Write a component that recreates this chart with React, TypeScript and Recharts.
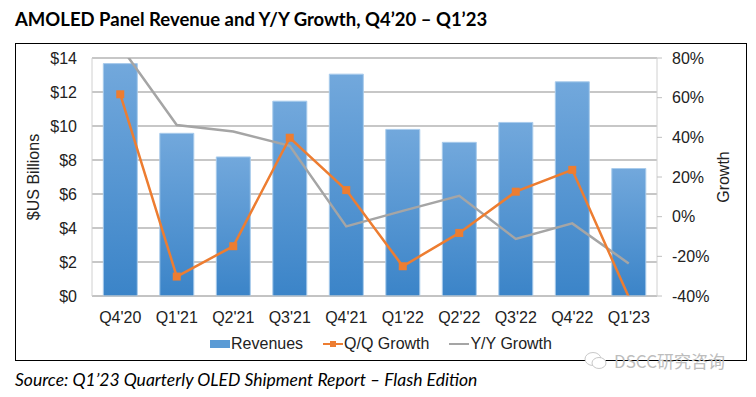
import React from "react"
import {
  ComposedChart,
  Bar,
  Line,
  XAxis,
  YAxis,
  CartesianGrid,
  Legend,
} from "recharts"

const quarters = ["Q4'20", "Q1'21", "Q2'21", "Q3'21", "Q4'21", "Q1'22", "Q2'22", "Q3'22", "Q4'22", "Q1'23"]
const revenues = [13.67, 9.57, 8.18, 11.46, 13.05, 9.8, 9.04, 10.21, 12.6, 7.5]
const qqGrowth = [61.7, -30.2, -14.9, 39.8, 13.4, -25.0, -8.2, 12.6, 23.6, -40.5]
const yyGrowth = [86, 46.2, 42.9, 35.7, -4.9, 2.9, 10.5, -11.2, -3.4, -23.6]
const revenueTicks = [0, 2, 4, 6, 8, 10, 12, 14]
const growthTicks = [-40, -20, 0, 20, 40, 60, 80]

const data = quarters.map((q, i) => ({
  quarter: q,
  revenue: revenues[i],
  qq: qqGrowth[i],
  yy: yyGrowth[i],
}))

const axisFont = "'Liberation Sans', Arial, sans-serif"
const ORANGE = "#ED7D31"
const GRAY = "#A5A5A5"
const BLUE = "#5B9BD5"

const SquareDot = (props: any) => {
  const { cx, cy, value } = props
  if (cx == null || cy == null || value < -40 || value > 80) return null
  return <rect x={cx - 4} y={cy - 4} width={8} height={8} fill={ORANGE} />
}

const LegendContent = () => (
  <div
    style={{
      display: "flex",
      justifyContent: "center",
      alignItems: "center",
      fontFamily: axisFont,
      fontSize: 16,
      color: "#222",
      gap: 20,
    }}
  >
    <span style={{ display: "flex", alignItems: "center" }}>
      <svg width={20} height={10} style={{ marginRight: 1 }}>
        <rect x={0} y={1} width={20} height={8} fill={BLUE} />
      </svg>
      Revenues
    </span>
    <span style={{ display: "flex", alignItems: "center" }}>
      <svg width={20} height={10} style={{ marginRight: 1 }}>
        <line x1={0} y1={5} x2={20} y2={5} stroke={ORANGE} strokeWidth={2} />
        <rect x={7} y={2} width={6} height={6} fill={ORANGE} />
      </svg>
      Q/Q Growth
    </span>
    <span style={{ display: "flex", alignItems: "center" }}>
      <svg width={20} height={10} style={{ marginRight: 1 }}>
        <line x1={0} y1={5} x2={20} y2={5} stroke={GRAY} strokeWidth={2} />
      </svg>
      Y/Y Growth
    </span>
  </div>
)

export default function App() {
  return (
    <div
      style={{
        position: "absolute",
        left: 0,
        top: 0,
        width: 756,
        height: 397,
        background: "#fff",
        overflow: "hidden",
      }}
    >
      <div
        style={{
          position: "absolute",
          left: 15,
          top: 8,
          fontFamily: "Lato, 'Open Sans', sans-serif",
          fontWeight: 700,
          fontSize: 18.5,
          color: "#000",
          whiteSpace: "nowrap",
        }}
      >
        AMOLED Panel Revenue and Y/Y Growth, Q4’20 – Q1’23
      </div>

      <div
        style={{
          position: "absolute",
          left: 15,
          top: 43,
          width: 730,
          height: 316,
          border: "1px solid #000",
        }}
      >
        <ComposedChart
          width={730}
          height={316}
          data={data}
          margin={{ top: 14, right: 0, bottom: 0, left: 0 }}
          barCategoryGap="20%"
        >
          <defs>
            <linearGradient id="barFill" x1="0" y1="0" x2="0" y2="1">
              <stop offset="0%" stopColor="#72A8DC" />
              <stop offset="100%" stopColor="#3B84C8" />
            </linearGradient>
          </defs>
          <CartesianGrid yAxisId="left" vertical={false} stroke="#8f8f8f" strokeWidth={1.2} />
          <XAxis
            dataKey="quarter"
            height={36}
            tickLine={false}
            tickSize={0}
            tickMargin={16}
            axisLine={{ stroke: "#c0c0c0" }}
            tick={{ fontSize: 16, fill: "#222", fontFamily: axisFont }}
            interval={0}
          />
          <YAxis
            yAxisId="left"
            width={76}
            domain={[0, 14]}
            ticks={revenueTicks}
            tickFormatter={(v) => `$${v}`}
            tickLine={false}
            tickSize={0}
            tickMargin={15}
            axisLine={{ stroke: "#d0d0d0" }}
            tick={{ fontSize: 16, fill: "#222", fontFamily: axisFont }}
            label={{
              content: (p: any) => {
                const vb = p.viewBox
                const cy = vb.y + vb.height / 2
                return (
                  <text
                    x={17}
                    y={cy}
                    transform={`rotate(-90, 17, ${cy})`}
                    textAnchor="middle"
                    dominantBaseline="central"
                    fontSize={16}
                    fontFamily={axisFont}
                    fill="#222"
                  >
                    $US Billions
                  </text>
                )
              },
            }}
          />
          <YAxis
            yAxisId="right"
            orientation="right"
            width={89}
            domain={[-40, 80]}
            ticks={growthTicks}
            allowDataOverflow
            tickFormatter={(v) => `${v}%`}
            tickSize={5}
            tickMargin={10}
            tickLine={{ stroke: "#c0c0c0" }}
            axisLine={{ stroke: "#d0d0d0" }}
            tick={{ fontSize: 16, fill: "#222", fontFamily: axisFont, textAnchor: "start" }}
            label={{
              content: (p: any) => {
                const vb = p.viewBox
                const cy = vb.y + vb.height / 2
                return (
                  <text
                    x={707}
                    y={cy}
                    transform={`rotate(-90, 707, ${cy})`}
                    textAnchor="middle"
                    dominantBaseline="central"
                    fontSize={16}
                    fontFamily={axisFont}
                    fill="#222"
                  >
                    Growth
                  </text>
                )
              },
            }}
          />
          <Legend verticalAlign="bottom" height={28} wrapperStyle={{ bottom: -3 }} content={<LegendContent />} />
          <Bar
            yAxisId="left"
            dataKey="revenue"
            name="Revenues"
            fill="url(#barFill)"
            stroke="#a8cbec"
            strokeWidth={1}
            isAnimationActive={false}
          />
          <Line
            yAxisId="right"
            dataKey="yy"
            name="Y/Y Growth"
            stroke={GRAY}
            strokeWidth={2.5}
            dot={false}
            activeDot={false}
            isAnimationActive={false}
          />
          <Line
            yAxisId="right"
            dataKey="qq"
            name="Q/Q Growth"
            stroke={ORANGE}
            strokeWidth={2.5}
            dot={<SquareDot />}
            activeDot={false}
            isAnimationActive={false}
          />
        </ComposedChart>
      </div>

      <div
        style={{
          position: "absolute",
          left: 584,
          top: 348,
          display: "flex",
          alignItems: "center",
          color: "#bdbdbd",
          fontFamily: "'Noto Sans CJK SC', 'Noto Sans', sans-serif",
          fontSize: 17,
          whiteSpace: "nowrap",
        }}
      >
        <svg width={24} height={20} style={{ marginRight: 6 }}>
          <ellipse cx={9} cy={8} rx={8} ry={6.5} fill="#fff" stroke="#c8c8c8" strokeWidth={1} />
          <ellipse cx={15} cy={12} rx={7} ry={5.5} fill="#fff" stroke="#c8c8c8" strokeWidth={1} />
        </svg>
        DSCC研究咨询
      </div>

      <div
        style={{
          position: "absolute",
          left: 15,
          top: 369,
          fontFamily: "Lato, 'Open Sans', sans-serif",
          fontStyle: "italic",
          fontSize: 17.5,
          color: "#000",
          whiteSpace: "nowrap",
        }}
      >
        Source: Q1’23 Quarterly OLED Shipment Report – Flash Edition
      </div>
    </div>
  )
}
